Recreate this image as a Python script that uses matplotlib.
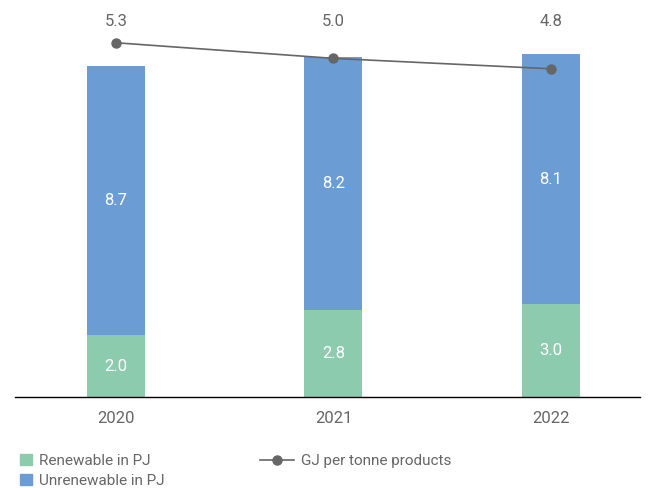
import matplotlib.pyplot as plt
from matplotlib.lines import Line2D
from matplotlib.patches import Patch

plt.rcParams['font.family'] = ['Roboto', 'DejaVu Sans']

years = ['2020', '2021', '2022']
renewable = [2.0, 2.8, 3.0]
unrenewable = [8.7, 8.2, 8.1]
gj_per_tonne = [5.3, 5.0, 4.8]

green = '#8ccbad'
blue = '#6b9dd4'
grey = '#666666'

fig = plt.figure(figsize=(6.53, 4.88), dpi=100)
ax = fig.add_axes([0.023, 1 - 397 / 488, 0.957, 387 / 488])

x = list(range(len(years)))
w = 0.267
ax.bar(x, renewable, width=w, color=green, zorder=2)
ax.bar(x, unrenewable, width=w, bottom=renewable, color=blue, zorder=2)

# value labels inside the bar segments
for i in x:
    ax.text(i, renewable[i] / 2, f'{renewable[i]:.1f}', ha='center', va='center',
            color='white', fontsize=12)
    ax.text(i, renewable[i] + unrenewable[i] / 2, f'{unrenewable[i]:.1f}',
            ha='center', va='center', color='white', fontsize=12)

ax.set_xlim(-0.465, 2.41)
ax.set_ylim(0, 12.52)
ax.set_xticks(x)
ax.set_xticklabels(years, fontsize=12, color=grey)
ax.tick_params(axis='x', length=0, pad=10)
ax.set_yticks([])
for s in ['top', 'right', 'left']:
    ax.spines[s].set_visible(False)
ax.spines['bottom'].set_color('black')
ax.spines['bottom'].set_linewidth(1.0)

# GJ per tonne line on its own scale
ax2 = ax.twinx()
ax2.plot(x, gj_per_tonne, color=grey, marker='o', markersize=6.5, linewidth=1.2, zorder=3)
for i in x:
    ax2.text(i, 0.969, f'{gj_per_tonne[i]:.1f}', transform=ax2.get_xaxis_transform(),
             ha='center', va='center', fontsize=12, color=grey)
ax2.set_ylim(-1.51, 5.93)
ax2.set_yticks([])
for s in ['top', 'right', 'left', 'bottom']:
    ax2.spines[s].set_visible(False)

bar_handles = [
    Patch(color=green, label='Renewable in PJ'),
    Patch(color=blue, label='Unrenewable in PJ'),
]
leg1 = fig.legend(handles=bar_handles, loc='upper left',
                  bbox_to_anchor=(14 / 653, 1 - 448 / 488), frameon=False,
                  fontsize=11, handlelength=0.75, handleheight=0.75,
                  handletextpad=0.5, labelspacing=0.4, borderaxespad=0)
line_handle = [Line2D([0], [0], color=grey, marker='o', markersize=6.5, linewidth=1.2,
                      label='GJ per tonne products')]
leg2 = fig.legend(handles=line_handle, loc='upper left',
                  bbox_to_anchor=(254 / 653, 1 - 448 / 488), frameon=False,
                  fontsize=11, handlelength=2.2, handletextpad=0.5, borderaxespad=0)
for leg in (leg1, leg2):
    for t in leg.get_texts():
        t.set_color(grey)

fig.savefig('out.png', dpi=100)
